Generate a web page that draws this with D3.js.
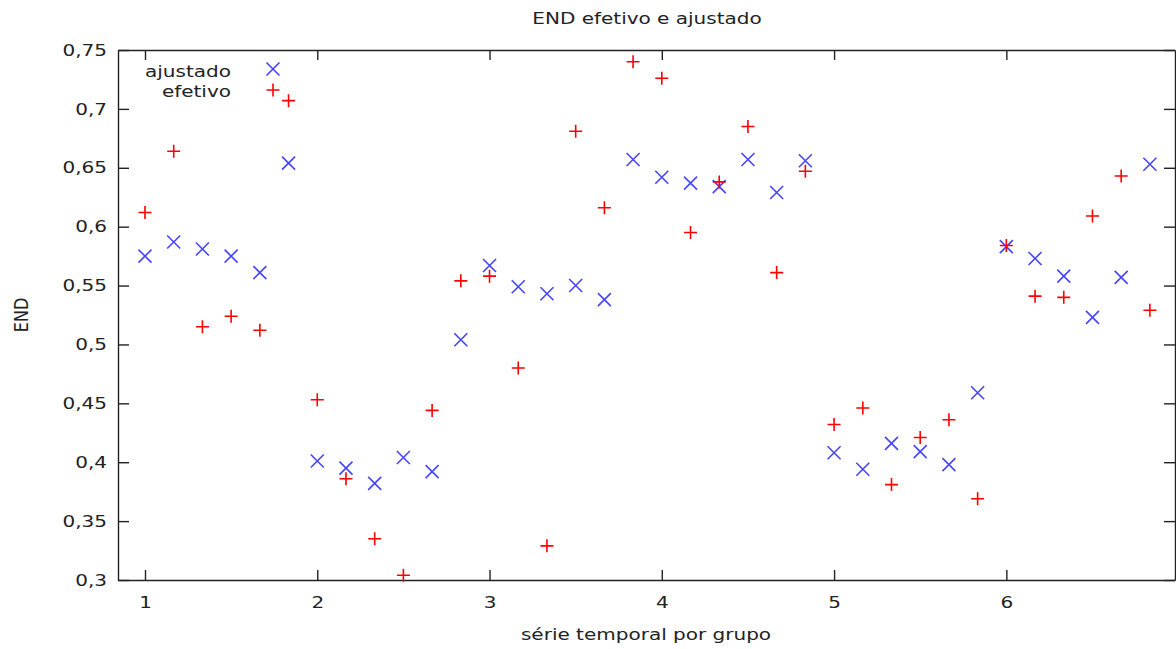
<!DOCTYPE html>
<html>
<head>
<meta charset="utf-8">
<script src="https://cdn.jsdelivr.net/npm/d3@7"></script>
<style>
  html, body { margin: 0; padding: 0; background: #fff; }
  svg { display: block; font-family: "DejaVu Sans", Verdana, sans-serif; }
  .axis path, .axis line { stroke: #222; stroke-width: 1.4; }
  .label { fill: #222; font-size: 16px; }
</style>
</head>
<body>
<div class="chart"></div>
<script>
// série temporal: 6 grupos x 6 pontos
const serie = [1, 1.1667, 1.3333, 1.5, 1.6667, 1.8333,
               2, 2.1667, 2.3333, 2.5, 2.6667, 2.8333,
               3, 3.1667, 3.3333, 3.5, 3.6667, 3.8333,
               4, 4.1667, 4.3333, 4.5, 4.6667, 4.8333,
               5, 5.1667, 5.3333, 5.5, 5.6667, 5.8333,
               6, 6.1667, 6.3333, 6.5, 6.6667, 6.8333];

const ajustado = [0.575, 0.587, 0.581, 0.575, 0.561, 0.654,
                  0.401, 0.395, 0.382, 0.404, 0.392, 0.504,
                  0.567, 0.549, 0.543, 0.550, 0.538, 0.657,
                  0.642, 0.637, 0.634, 0.657, 0.629, 0.656,
                  0.408, 0.394, 0.416, 0.409, 0.398, 0.459,
                  0.583, 0.573, 0.558, 0.523, 0.557, 0.653];

const efetivo = [0.612, 0.664, 0.515, 0.524, 0.512, 0.707,
                 0.453, 0.386, 0.335, 0.304, 0.444, 0.554,
                 0.558, 0.480, 0.329, 0.681, 0.616, 0.740,
                 0.726, 0.595, 0.638, 0.685, 0.561, 0.647,
                 0.432, 0.446, 0.381, 0.421, 0.436, 0.369,
                 0.584, 0.541, 0.540, 0.609, 0.643, 0.529];

const xTicks = [1, 2, 3, 4, 5, 6];
const yTicks = [0.3, 0.35, 0.4, 0.45, 0.5, 0.55, 0.6, 0.65, 0.7, 0.75];

const width = 1176, height = 649;
const box = { left: 118, right: 1175, top: 50, bottom: 580 };
const stretchX = 1.25;   // the original text is wider than tall

const x = d3.scaleLinear().domain([0.8433, 6.979]).range([box.left, box.right]);
const y = d3.scaleLinear().domain([0.3, 0.75]).range([box.bottom, box.top]);

const pt = d3.formatLocale({ decimal: ",", thousands: ".", grouping: [3], currency: ["", ""] });
const fmt = pt.format(".2~f");

const svg = d3.select(".chart").append("svg")
    .attr("width", width)
    .attr("height", height);

// draw a text at (px,py) stretched horizontally
function label(g, px, py, txt, anchor, rotate) {
    return g.append("text")
        .attr("class", "label")
        .attr("text-anchor", anchor || "middle")
        .attr("transform", `translate(${px},${py}) scale(${stretchX},1)` + (rotate ? ` rotate(${rotate})` : ""))
        .text(txt);
}

// move axis tick texts into a stretched transform
function stretchTicks(sel) {
    sel.selectAll(".tick text").each(function () {
        const t = d3.select(this);
        const tx = +t.attr("x") || 0, ty = +t.attr("y") || 0;
        t.attr("x", 0).attr("y", 0)
            .attr("transform", `translate(${tx},${ty}) scale(${stretchX},1)`)
            .attr("class", "label")
            .attr("fill", null);
    });
    sel.attr("font-family", null).attr("font-size", null);
}

const axB = svg.append("g").attr("class", "axis")
    .attr("transform", `translate(0,${box.bottom})`)
    .call(d3.axisBottom(x).tickValues(xTicks).tickSizeInner(-10).tickSizeOuter(0).tickPadding(17).tickFormat(d3.format("d")));
stretchTicks(axB);

svg.append("g").attr("class", "axis")
    .attr("transform", `translate(0,${box.top})`)
    .call(d3.axisTop(x).tickValues(xTicks).tickSizeInner(-10).tickSizeOuter(0).tickFormat(""));

const axL = svg.append("g").attr("class", "axis")
    .attr("transform", `translate(${box.left},0)`)
    .call(d3.axisLeft(y).tickValues(yTicks).tickSizeInner(-11).tickSizeOuter(0).tickPadding(11).tickFormat(fmt));
stretchTicks(axL);

svg.append("g").attr("class", "axis")
    .attr("transform", `translate(${box.right},0)`)
    .call(d3.axisRight(y).tickValues(yTicks).tickSizeInner(-11).tickSizeOuter(0).tickFormat(""));

// titles
label(svg, 647, 24, "END efetivo e ajustado");
label(svg, 646, 640, "série temporal por grupo");
label(svg, 28, 315, "END", "middle", -90);

// markers
const r = 6.5;
const crossX = (g, cx, cy) => g.append("path")
    .attr("d", `M${cx - r},${cy - r}L${cx + r},${cy + r}M${cx - r},${cy + r}L${cx + r},${cy - r}`)
    .attr("stroke", "#4545ff").attr("stroke-width", 1.6).attr("fill", "none");
const plus = (g, cx, cy) => g.append("path")
    .attr("d", `M${cx - r},${cy}L${cx + r},${cy}M${cx},${cy - r}L${cx},${cy + r}`)
    .attr("stroke", "#ff0000").attr("stroke-width", 1.6).attr("fill", "none");

const pts = svg.append("g");
serie.forEach((d, i) => crossX(pts, x(d), y(ajustado[i])));
serie.forEach((d, i) => plus(pts, x(d), y(efetivo[i])));

// legend
const leg = svg.append("g");
label(leg, 231, 77, "ajustado", "end");
label(leg, 231, 97, "efetivo", "end");
crossX(leg, 273, 69);
plus(leg, 273, 90);
</script>
</body>
</html>
